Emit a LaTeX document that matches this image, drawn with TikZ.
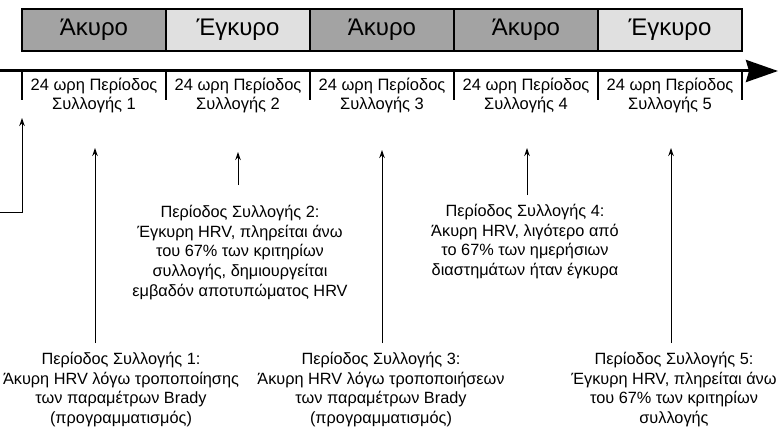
\documentclass[tikz,border=0pt]{standalone}
\usepackage{fontspec}
\setmainfont{Liberation Sans}
\usetikzlibrary{arrows.meta}

\begin{document}
\begin{tikzpicture}[x=1pt, y=-1pt, >={Stealth[length=8pt,width=5.5pt]},
    status/.style={draw, line width=1.5pt, minimum width=144pt, minimum height=42pt,
      inner sep=0pt, font=\fontsize{24}{28}\selectfont},
    invalid/.style={status, fill=black!36},
    valid/.style={status, fill=black!12},
    period/.style={align=center, inner sep=0pt, font=\fontsize{16.5}{19}\selectfont},
    note/.style={align=center, inner sep=0pt, font=\fontsize{16.3}{19.6}\selectfont},
    pointer/.style={->, line width=1pt}]

            \useasboundingbox (0,0) rectangle (779,428);

            % Status of each period
            \node[invalid] (b1) at (94,30) {Άκυρο};
            \node[valid]   (b2) at (238,30) {Έγκυρο};
            \node[invalid] (b3) at (382,30) {Άκυρο};
            \node[invalid] (b4) at (526,30) {Άκυρο};
            \node[valid]   (b5) at (670,30) {Έγκυρο};

            % Time axis
            \coordinate (a0) at (0,71);
            \coordinate (a1) at (778,71);
            \draw[line width=3pt, -{Stealth[length=32pt,width=22pt,inset=3pt]}] (a0) -- (a1);

            % Period borders
            \draw[line width=2pt]
            (22,71) -- (22,100)
            (166,71) -- (166,100)
            (310,71) -- (310,100)
            (454,71) -- (454,100)
            (598,71) -- (598,100)
            (742,71) -- (742,100);

            % Periods
            \node[period] (s1) at (94,95.5) {24 ωρη Περίοδος\\Συλλογής 1};
            \node[period] (s2) at (238,95.5) {24 ωρη Περίοδος\\Συλλογής 2};
            \node[period] (s3) at (382,95.5) {24 ωρη Περίοδος\\Συλλογής 3};
            \node[period] (s4) at (526,95.5) {24 ωρη Περίοδος\\Συλλογής 4};
            \node[period] (s5) at (670,95.5) {24 ωρη Περίοδος\\Συλλογής 5};

            % Notes
            \node[note] (n1) at (121,389.5) {Περίοδος Συλλογής 1:\\Άκυρη HRV λόγω τροποποίησης\\των παραμέτρων Brady\\(προγραμματισμός)};
            \node[note] (n2) at (240,252.5) {Περίοδος Συλλογής 2:\\Έγκυρη HRV, πληρείται άνω\\του 67\% των κριτηρίων\\συλλογής, δημιουργείται\\εμβαδόν αποτυπώματος HRV};
            \node[note] (n3) at (381,389.5) {Περίοδος Συλλογής 3:\\Άκυρη HRV λόγω τροποποιήσεων\\των παραμέτρων Brady\\(προγραμματισμός)};
            \node[note] (n4) at (525,241.5) {Περίοδος Συλλογής 4:\\Άκυρη HRV, λιγότερο από\\το 67\% των ημερήσιων\\διαστημάτων ήταν έγκυρα};
            \node[note] (n5) at (674,389.5) {Περίοδος Συλλογής 5:\\Έγκυρη HRV, πληρείται άνω\\του 67\% των κριτηρίων\\συλλογής};

            % Pointers
            \coordinate (f0) at (0,212);
            \coordinate (t0) at (22,118);
            \coordinate (f1) at (95,343);
            \coordinate (t1) at (95,148);
            \coordinate (f2) at (238,185);
            \coordinate (t2) at (238,152);
            \coordinate (f3) at (382,343);
            \coordinate (t3) at (382,150);
            \coordinate (f4) at (527,195);
            \coordinate (t4) at (527,148);
            \coordinate (f5) at (671,343);
            \coordinate (t5) at (671,148);

            \draw[pointer] (f0) -| (t0);
            \draw[pointer] (f1) -- (t1);
            \draw[pointer] (f2) -- (t2);
            \draw[pointer] (f3) -- (t3);
            \draw[pointer] (f4) -- (t4);
            \draw[pointer] (f5) -- (t5);

\end{tikzpicture}
\end{document}
